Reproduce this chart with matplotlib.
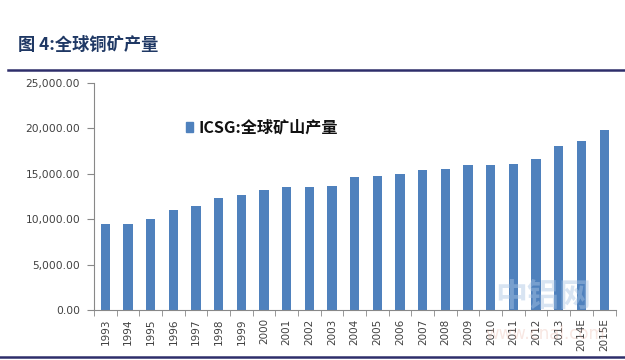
import matplotlib
matplotlib.use("Agg")
import matplotlib.pyplot as plt
from matplotlib.lines import Line2D
from matplotlib.patches import Rectangle
from matplotlib.ticker import FuncFormatter, FixedLocator

plt.rcParams['font.family'] = ['Noto Sans CJK SC', 'DejaVu Sans']

years = ['1993', '1994', '1995', '1996', '1997', '1998', '1999', '2000', '2001',
         '2002', '2003', '2004', '2005', '2006', '2007', '2008', '2009', '2010',
         '2011', '2012', '2013', '2014E', '2015E']
production = [9500, 9500, 10000, 11000, 11500, 12300, 12700, 13200, 13600,
              13600, 13700, 14600, 14800, 14950, 15400, 15500, 16000, 16000,
              16100, 16650, 18100, 18600, 19800]
series_name = 'ICSG:全球矿山产量'
title = '图 4:全球铜矿产量'

W, H = 625, 360
fig = plt.figure(figsize=(W / 100, H / 100), dpi=100)
ax = fig.add_axes([94 / W, 1 - 310 / H, (615.5 - 94) / W, (310 - 83) / H])

x = list(range(len(years)))
ax.bar(x, production, width=0.41, color='#4F81BD', zorder=2)

ax.set_xlim(-0.5, len(years) - 0.5)
ax.set_ylim(0, 25000)
ax.yaxis.set_major_locator(FixedLocator([0, 5000, 10000, 15000, 20000, 25000]))
ax.yaxis.set_major_formatter(FuncFormatter(lambda v, p: f'{v:,.2f}'))
ax.set_xticks(x)
ax.set_xticklabels(years, rotation=90, family='DejaVu Sans')
ax.set_xticks([i - 0.5 for i in range(len(years) + 1)], minor=True)
ax.tick_params(axis='x', which='major', length=0, pad=6, labelsize=7.5, colors='#404040')
ax.tick_params(axis='x', which='minor', length=4, color='#888888', direction='out')
ax.tick_params(axis='y', which='major', length=5, color='#888888', direction='out',
               labelsize=7.7, colors='#404040', pad=5)
for lab in ax.get_yticklabels():
    lab.set_family('DejaVu Sans')
for s in ['top', 'right']:
    ax.spines[s].set_visible(False)
for s in ['left', 'bottom']:
    ax.spines[s].set_color('#888888')
    ax.spines[s].set_linewidth(0.8)

# legend (manual, placed inside plot area)
fig.patches.append(Rectangle((186 / W, 1 - 132 / H), 7 / W, 10 / H,
                             transform=fig.transFigure, color='#4F81BD'))
fig.text(199 / W, 1 - 127 / H, series_name, fontsize=11.6, fontweight='bold',
         color='#111111', va='center', ha='left')

# title and rules
fig.text(18 / W, 1 - 45 / H, title, fontsize=12.4, fontweight='bold',
         color='#1F3864', va='center', ha='left')
fig.add_artist(Line2D([8 / W, 1], [1 - 70 / H, 1 - 70 / H], transform=fig.transFigure,
                      color='#2E2E6B', linewidth=1.8))
fig.add_artist(Line2D([0, 1], [1 - 357 / H, 1 - 357 / H], transform=fig.transFigure,
                      color='#2E2E6B', linewidth=1.8))

# faint watermark
fig.text(543 / W, 1 - 297 / H, '中铝网', fontsize=23, fontweight='bold',
         color='#A9C4E4', alpha=0.45, ha='center', va='center')
fig.text(545 / W, 1 - 334 / H, 'www.cnal.com', fontsize=12,
         color='#E8B0A0', alpha=0.3, ha='center', va='center', family='DejaVu Sans')

fig.savefig('out.png', dpi=100)
